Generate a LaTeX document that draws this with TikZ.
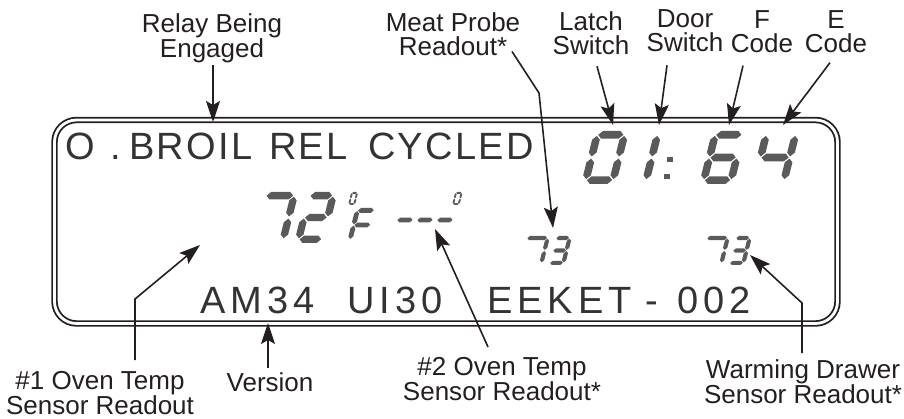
\documentclass[tikz,border=0pt]{standalone}
\usepackage{fontspec}
\setmainfont{Liberation Sans}
\usepackage{xcolor}
\usetikzlibrary{arrows.meta}

\definecolor{inkblack}{HTML}{231F20}
\definecolor{lcdink}{HTML}{333333}
\definecolor{seggray}{HTML}{5A5A5A}

% one segment of a seven segment digit, horizontal and vertical
\newcommand{\lcdh}[3]{\fill[lcdseg] ({#1+\lcdG},{#3}) -- ({#1+\lcdG+\lcdT/2},{#3+\lcdT/2}) -- ({#2-\lcdG-\lcdT/2},{#3+\lcdT/2}) -- ({#2-\lcdG},{#3}) -- ({#2-\lcdG-\lcdT/2},{#3-\lcdT/2}) -- ({#1+\lcdG+\lcdT/2},{#3-\lcdT/2}) -- cycle;}
\newcommand{\lcdv}[3]{\fill[lcdseg] ({#1},{#2+\lcdG}) -- ({#1+\lcdT/2},{#2+\lcdG+\lcdT/2}) -- ({#1+\lcdT/2},{#3-\lcdG-\lcdT/2}) -- ({#1},{#3-\lcdG}) -- ({#1-\lcdT/2},{#3-\lcdG-\lcdT/2}) -- ({#1-\lcdT/2},{#2+\lcdG+\lcdT/2}) -- cycle;}
\newcommand{\lcdsega}{\lcdh{\lcdT/2}{\lcdW-\lcdT/2}{\lcdH-\lcdT/2}}
\newcommand{\lcdsegb}{\lcdv{\lcdW-\lcdT/2}{\lcdH/2}{\lcdH-\lcdT/2}}
\newcommand{\lcdsegc}{\lcdv{\lcdW-\lcdT/2}{\lcdT/2}{\lcdH/2}}
\newcommand{\lcdsegd}{\lcdh{\lcdT/2}{\lcdW-\lcdT/2}{\lcdT/2}}
\newcommand{\lcdsege}{\lcdv{\lcdT/2}{\lcdT/2}{\lcdH/2}}
\newcommand{\lcdsegf}{\lcdv{\lcdT/2}{\lcdH/2}{\lcdH-\lcdT/2}}
\newcommand{\lcdsegg}{\lcdh{\lcdT/2}{\lcdW-\lcdT/2}{\lcdH/2}}
% digit: x, y of lower left corner, height, width, segments
\newcommand{\lcddigit}[5]{%
  \begin{scope}[shift={(#1,#2)}, yscale=-1, xslant=-0.25]
    \pgfmathsetmacro{\lcdH}{#3}
    \pgfmathsetmacro{\lcdW}{#4}
    \pgfmathsetmacro{\lcdT}{0.145*#3}
    \pgfmathsetmacro{\lcdG}{0.02*#3}
    \foreach \sg in {#5}{\csname lcdseg\sg\endcsname}
  \end{scope}}

\begin{document}
\begin{tikzpicture}[
    x=1pt, y=-1pt,
    callout/.style={font=\fontsize{26}{24}\selectfont, text=inkblack, align=center, inner sep=0pt, anchor=north},
    lcdword/.style={font=\fontsize{38}{38}\selectfont\addfontfeatures{LetterSpace=6}, text=lcdink, inner sep=0pt, anchor=base west},
    lcdwide/.style={font=\fontsize{38}{38}\selectfont\addfontfeatures{LetterSpace=13}, text=lcdink, inner sep=0pt, anchor=base west},
    lcdframe/.style={draw=inkblack, line width=1.8pt, double=white, double distance=2.8pt, rounded corners=22pt, minimum width=783pt, minimum height=203.5pt, inner sep=0pt},
    lcdseg/.style={fill=seggray},
    arrow/.style={-{Stealth[length=21pt, width=14pt, inset=4pt]}, line width=1.6pt, draw=inkblack}
]
    \useasboundingbox (0,0) rectangle (904,419);

    % display window
    \node[lcdframe] (lcd) at (446,221.75) {};

    % text lines of the display
    \node[lcdword] (oword) at (65,160) {O};
    \node[lcdword] (dotword) at (110,160) {.};
    \node[lcdword] (broil) at (129,160) {BROIL};
    \node[lcdword] (rel) at (269,160) {REL};
    \node[lcdword] (cycled) at (368,160) {CYCLED};
    \node[lcdwide] (am) at (200,313) {AM34};
    \node[lcdwide] (ui) at (347,313) {UI30};
    \node[lcdwide] (eeket) at (487,313) {EEKET};
    \node[lcdwide] (hyphen) at (645,313) {-};
    \node[lcdwide] (build) at (677,313) {002};

    % 01:64
    \lcddigit{581}{184}{53}{35}{a,b,c,d,e,f}
    \lcddigit{614}{184}{53}{35}{b,c}
    \fill[lcdseg] (667,157) rectangle ++(6,5);
    \fill[lcdseg] (664,174) rectangle ++(6,5);
    \lcddigit{699}{184}{53}{35}{a,c,d,e,f,g}
    \lcddigit{750}{184}{53}{37}{b,c,f,g}

    % 72 F --- and the degree marks
    \lcddigit{250}{243}{51}{36}{a,b,c}
    \lcddigit{294}{243}{51}{31}{a,b,d,e,g}
    \lcddigit{348}{205}{13}{7}{a,b,c,d,e,f}
    \lcddigit{347}{242}{34}{22}{a,e,f,g}
    \foreach \dx in {390,410,430}
        \lcddigit{\dx}{237}{34}{21.4}{g};
    \lcddigit{452}{205}{13}{7.5}{a,b,c,d,e,f}

    % the two 73 readouts
    \foreach \dx in {0,180}{
        \lcddigit{518+\dx}{265}{29}{25}{a,b,c}
        \lcddigit{547+\dx}{265}{29}{18}{a,b,c,d,g}
    }

    % labels
    \node[callout] (relay) at (212,13) {Relay Being\\Engaged};
    \node[callout] (meat) at (453,12) {Meat Probe\\Readout*};
    \node[callout] (latch) at (591,11) {Latch\\Switch};
    \node[callout] (door) at (685,9) {Door\\Switch};
    \node[callout] (fcode) at (762,10) {F\\Code};
    \node[callout] (ecode) at (836,10) {E\\Code};
    \node[callout] (oven1) at (100,371) {\#1 Oven Temp\\Sensor Readout};
    \node[callout] (version) at (270,372) {Version};
    \node[callout] (oven2) at (502,357) {\#2 Oven Temp\\Sensor Readout*};
    \node[callout] (warming) at (803,359) {Warming Drawer\\Sensor Readout*};

    % arrow ends
    \coordinate (relaytip) at (213,122);
    \coordinate (meatbend) at (539,93);
    \coordinate (meattip) at (553,228);
    \coordinate (latchtip) at (613,125);
    \coordinate (doortip) at (659,125);
    \coordinate (ftip) at (729,125);
    \coordinate (etip) at (783,125);
    \coordinate (oven1bend) at (135,299);
    \coordinate (oven1tip) at (200,245);
    \coordinate (versiontip) at (268,323);
    \coordinate (oven2tip) at (435,229);
    \coordinate (warmingbend) at (802,303);
    \coordinate (warmingtip) at (750,255);

    \draw[arrow] ([shift={(1,2.5)}]relay.south) -- (relaytip);
    \draw[arrow] ([shift={(59,-4)}]meat.south) -- (meatbend) -- (meattip);
    \draw[arrow] ([shift={(6,11.8)}]latch.south) -- (latchtip);
    \draw[arrow] ([shift={(-18,13.8)}]door.south) -- (doortip);
    \draw[arrow] ([shift={(-19,13.1)}]fcode.south) -- (ftip);
    \draw[arrow] ([shift={(-6,10.1)}]ecode.south) -- (etip);
    \draw[arrow] ([shift={(35,-11)}]oven1.north) -- (oven1bend) -- (oven1tip);
    \draw[arrow] ([shift={(-2,-4)}]version.north) -- (versiontip);
    \draw[arrow] ([shift={(-14,-10)}]oven2.north) -- (oven2tip);
    \draw[arrow] ([shift={(-1,-6)}]warming.north) -- (warmingbend) -- (warmingtip);
\end{tikzpicture}
\end{document}
